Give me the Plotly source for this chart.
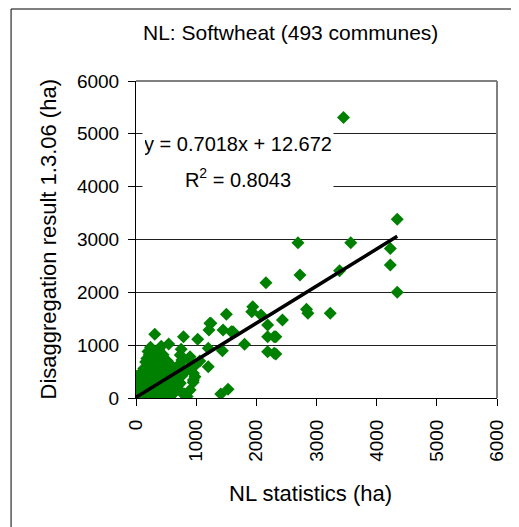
import plotly.graph_objects as go

# ---- data ----
outer_x = [3449, 4342, 3569, 2692, 4227, 4227, 4342, 2725, 3383, 2834, 2857, 3229,
           2160, 1941, 1924, 1502, 1228, 1212, 1447, 1584, 2078, 2188, 2434, 2188,
           2324, 2188, 2324, 1804, 312, 543, 789, 1025, 1201, 1436, 751, 899, 762,
           1201, 954, 981, 806, 1409, 1530, 241, 378, 597, 680, 477, 735, 735, 954,
           1245, 1612, 2297, 2297]
outer_y = [5311, 3381, 2939, 2939, 2832, 2516, 2000, 2327, 2409, 1678, 1602, 1602,
           2182, 1728, 1633, 1583, 1413, 1287, 1287, 1255, 1570, 1381, 1476, 1160,
           1160, 876, 832, 1016, 1205, 1022, 1160, 1110, 940, 896, 921, 782, 719,
           593, 467, 403, 76, 76, 164, 959, 908, 593, 403, 530, 278, 814, 340,
           1413, 1255, 845, 1160]

cluster_x = [0, 5, 10, 15, 8, 20, 12, 25, 10, 30, 5, 40, 50, 60, 45, 70, 55, 80, 90, 100,
             110, 95, 120, 105, 130, 140, 150, 160, 170, 155, 180, 165, 190, 200, 210,
             220, 230, 215, 240, 225, 250, 260, 270, 280, 290, 300, 285, 310, 295, 320,
             330, 340, 350, 360, 370, 355, 380, 365, 390, 400, 410, 420, 430, 415, 440,
             425, 450, 460, 470, 480, 490, 500, 520, 540, 560, 510, 550, 580, 600, 620,
             640, 600, 650, 680, 700, 720, 250, 300, 200, 350, 400, 280, 220, 180, 160,
             130, 100, 60, 150, 330, 450, 500, 380, 560, 620, 700, 760, 820, 880, 750,
             800, 850, 900, 450, 520, 260, 200, 350, 420, 580, 660, 730, 1000, 1060,
             900, 950]
cluster_y = [0, 30, 60, 100, 150, 200, 250, 300, 340, 380, 410, 20, 80, 130, 180, 230,
             280, 330, 10, 60, 120, 170, 220, 270, 320, 380, 30, 90, 150, 200, 260, 310,
             360, 420, 15, 70, 130, 190, 240, 300, 350, 410, 480, 40, 100, 160, 220, 280,
             340, 400, 460, 520, 60, 120, 180, 240, 300, 360, 420, 480, 30, 90, 150, 210,
             270, 330, 390, 450, 20, 80, 140, 200, 260, 320, 380, 50, 110, 170, 230, 290,
             350, 60, 120, 180, 240, 300, 560, 620, 600, 680, 750, 700, 820, 750, 680,
             560, 480, 450, 500, 780, 620, 560, 600, 480, 420, 380, 420, 500, 560, 120,
             60, 30, 150, 820, 700, 900, 880, 880, 980, 620, 540, 650, 640, 700, 700, 300]

slope = 0.7018
intercept = 12.672
r2 = 0.8043
fit_x = [0, 4342]

title = "NL: Softwheat (493 communes)"
x_title = "NL statistics (ha)"
y_title = "Disaggregation result 1.3.06 (ha)"
tick_vals = [0, 1000, 2000, 3000, 4000, 5000, 6000]
tick_text = ["0", "1000", "2000", "3000", "4000", "5000", "6000"]

FONT = "Liberation Sans, Arial, sans-serif"

xs = outer_x + cluster_x
ys = outer_y + cluster_y
fit_y = [slope * v + intercept for v in fit_x]

fig = go.Figure()
fig.add_trace(go.Scatter(x=xs, y=ys, mode="markers",
                         marker=dict(symbol="diamond", size=10, color="#008000"),
                         showlegend=False, hoverinfo="skip"))
fig.add_trace(go.Scatter(x=fit_x, y=fit_y, mode="lines",
                         line=dict(color="black", width=3.5),
                         showlegend=False, hoverinfo="skip"))

axis_common = dict(range=[0, 6000], tickvals=tick_vals, ticktext=tick_text,
                   ticks="outside", ticklen=7, tickcolor="black", tickwidth=1,
                   showline=True, linecolor="black", linewidth=1,
                   tickfont=dict(family=FONT, size=19, color="black"),
                   zeroline=False, fixedrange=True)

# page body adds an 8px offset; figure is sized to fill the rest of the window
fig.update_layout(
    width=511, height=519,
    margin=dict(l=128, r=16, t=73, b=129),
    paper_bgcolor="white", plot_bgcolor="white",
    xaxis=dict(**axis_common, showgrid=False, tickangle=-90, ticklabelstandoff=6),
    yaxis=dict(**axis_common, showgrid=True, gridcolor="#202020", gridwidth=1,
               ticklabelstandoff=5),
    font=dict(family=FONT, color="black"),
)

# plot-area border (top & right, gray)
fig.add_shape(type="line", xref="paper", yref="paper", x0=0, x1=1, y0=1, y1=1,
              line=dict(color="#808080", width=2))
fig.add_shape(type="line", xref="paper", yref="paper", x0=1, x1=1, y0=0, y1=1,
              line=dict(color="#808080", width=2))
# outer chart frame
fig.add_shape(type="rect", xref="paper", yref="paper",
              x0=(9 - 136) / 367, x1=(560 - 136) / 367,
              y0=(398 - 560) / 317, y1=(398 - 9) / 317,
              line=dict(color="black", width=1))

fig.add_annotation(text=title, xref="paper", yref="paper",
                   x=(293 - 136) / 367, y=(398 - 32) / 317,
                   xanchor="center", yanchor="middle", showarrow=False,
                   font=dict(family=FONT, size=21, color="black"))
fig.add_annotation(text=x_title, xref="paper", yref="paper",
                   x=(313 - 136) / 367, y=(398 - 493) / 317,
                   xanchor="center", yanchor="middle", showarrow=False,
                   font=dict(family=FONT, size=22, color="black"))
fig.add_annotation(text=y_title, xref="paper", yref="paper",
                   x=(47 - 136) / 367, y=(398 - 239) / 317, textangle=-90,
                   xanchor="center", yanchor="middle", showarrow=False,
                   font=dict(family=FONT, size=22, color="black"))
fig.add_annotation(text=f"y = {slope}x + {intercept}", xref="paper", yref="paper",
                   x=(240 - 136) / 367, y=(398 - 144) / 317,
                   xanchor="center", yanchor="middle", showarrow=False,
                   width=186, height=32, align="center",
                   bgcolor="white", borderpad=2,
                   font=dict(family=FONT, size=20, color="black"))
fig.add_annotation(text=f"R<sup>2</sup> = {r2}", xref="paper", yref="paper",
                   x=(240 - 136) / 367, y=(398 - 178) / 317,
                   xanchor="center", yanchor="middle", showarrow=False,
                   width=186, height=36, align="center",
                   bgcolor="white", borderpad=2,
                   font=dict(family=FONT, size=20, color="black"))

fig.write_html("out.html")
